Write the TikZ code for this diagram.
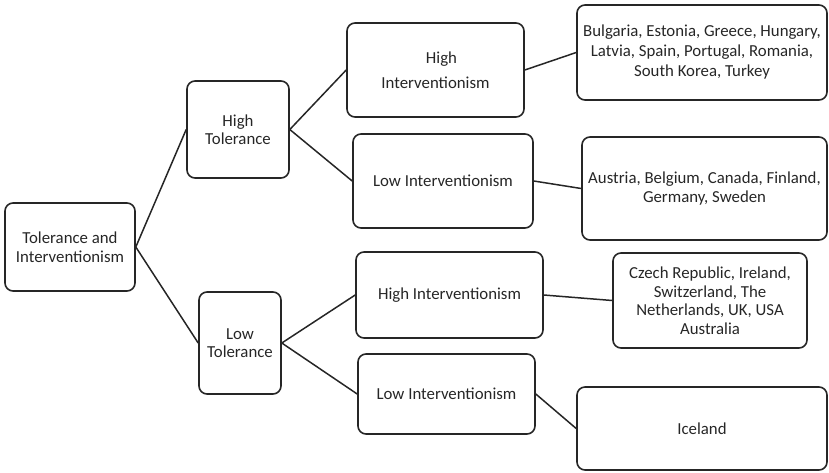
\documentclass[tikz,border=0pt]{standalone}
\usepackage{fontspec}
\setmainfont{Carlito}
\begin{document}
\begin{tikzpicture}[x=1pt,y=-1pt,
  box/.style={draw=black!85, line width=1.6pt, rounded corners=8pt, align=center,
    inner sep=0pt, font=\fontsize{16.8}{18.5}\selectfont, text=black!85},
  link/.style={draw=black!85, line width=1.5pt}]
\useasboundingbox (0,0) rectangle (829,472);
\node[box, minimum width=130pt, minimum height=88pt] (root) at (70,247) {Tolerance and\\Interventionism};
\node[box, minimum width=102pt, minimum height=97pt] (ht) at (238,129.5) {High\\Tolerance};
\node[box, minimum width=82pt, minimum height=102pt] (lt) at (240,343) {Low\\Tolerance};
\node[box, minimum width=177pt, minimum height=94pt] (hi1) at (435.5,70) {\hspace*{12pt}High\\[7pt]Interventionism};
\node[box, minimum width=180pt, minimum height=94pt] (li1) at (443,181) {Low Interventionism};
\node[box, minimum width=187pt, minimum height=86pt] (hi2) at (449.5,295) {High Interventionism};
\node[box, minimum width=177pt, minimum height=80pt] (li2) at (446.5,394) {Low Interventionism};
\node[box, minimum width=250pt, minimum height=95pt] (leaf1) at (702,52.5) {Bulgaria, Estonia, Greece, Hungary,\\[1.5pt]Latvia, Spain, Portugal, Romania,\\[1.5pt]South Korea, Turkey};
\node[box, minimum width=245pt, minimum height=103pt] (leaf2) at (704.5,188.5) {Austria, Belgium, Canada, Finland,\\Germany, Sweden};
\node[box, minimum width=194pt, minimum height=95pt] (leaf3) at (710,300.5) {Czech Republic, Ireland,\\Switzerland, The\\Netherlands, UK, USA\\Australia};
\node[box, minimum width=250pt, minimum height=83pt] (leaf4) at (702,428.5) {Iceland};
\draw[link] (root.east) -- (ht.west);
\draw[link] (root.east) -- (lt.west);
\draw[link] (ht.east) -- (hi1.west);
\draw[link] (ht.east) -- (li1.west);
\draw[link] (lt.east) -- (hi2.west);
\draw[link] (lt.east) -- (li2.west);
\draw[link] (hi1.east) -- (leaf1.west);
\draw[link] (li1.east) -- (leaf2.west);
\draw[link] (hi2.east) -- (leaf3.west);
\draw[link] (li2.east) -- (leaf4.west);
\end{tikzpicture}
\end{document}
